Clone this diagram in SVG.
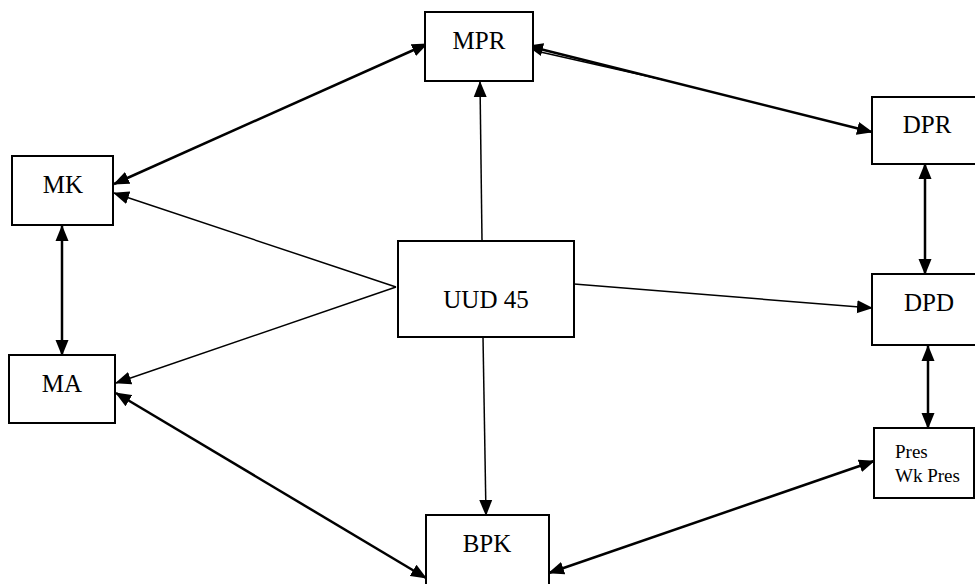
<svg xmlns="http://www.w3.org/2000/svg" width="975" height="584" viewBox="0 0 975 584">
<defs>
<marker id="ah" markerUnits="userSpaceOnUse" markerWidth="16" markerHeight="14" refX="15" refY="6.5" orient="auto-start-reverse" viewBox="0 0 16 13">
<path d="M0,0 L16,6.5 L0,13 Z" fill="#000"/>
</marker>
<style>
.box{fill:#fff;stroke:#000;stroke-width:2}
.t{font-size:25px;fill:#000;text-anchor:middle}
.ts{font-size:19px;fill:#000}
.thick{stroke:#000;stroke-width:2.5;fill:none}
.thin{stroke:#000;stroke-width:1.5;fill:none}
</style>
</defs>
<rect width="975" height="584" fill="#fff"/>
<g id="connectors">
<line class="thick" x1="114" y1="184" x2="427" y2="44" marker-start="url(#ah)" marker-end="url(#ah)"/>
<line class="thick" x1="528" y1="46" x2="872" y2="132" marker-start="url(#ah)" marker-end="url(#ah)"/>
<line class="thin" x1="536" y1="51" x2="662" y2="79.5"/>
<line class="thin" x1="482" y1="241" x2="480" y2="82" marker-end="url(#ah)"/>
<line class="thin" x1="396" y1="287" x2="114" y2="193" marker-end="url(#ah)"/>
<line class="thin" x1="396" y1="287" x2="116" y2="383" marker-end="url(#ah)"/>
<line class="thin" x1="574" y1="284" x2="872" y2="308" marker-end="url(#ah)"/>
<line class="thin" x1="483" y1="337" x2="486" y2="515" marker-end="url(#ah)"/>
<line class="thick" x1="62" y1="226" x2="62" y2="355" marker-start="url(#ah)" marker-end="url(#ah)"/>
<line class="thick" x1="925" y1="164" x2="925" y2="274" marker-start="url(#ah)" marker-end="url(#ah)"/>
<line class="thick" x1="928" y1="346" x2="928" y2="428" marker-start="url(#ah)" marker-end="url(#ah)"/>
<line class="thick" x1="116" y1="393" x2="426" y2="578" marker-start="url(#ah)" marker-end="url(#ah)"/>
<line class="thick" x1="549" y1="573" x2="874" y2="461" marker-start="url(#ah)" marker-end="url(#ah)"/>
</g>
<g font-family="'Liberation Serif', 'DejaVu Serif', serif">
<g id="MPR"><rect class="box" x="425" y="12" width="108" height="69"/><text class="t" x="479" y="49">MPR</text></g>
<g id="DPR"><rect class="box" x="872" y="97" width="106" height="67"/><text class="t" x="927" y="133">DPR</text></g>
<g id="MK"><rect class="box" x="12" y="156" width="101" height="69"/><text class="t" x="63" y="193">MK</text></g>
<g id="MA"><rect class="box" x="9" y="355" width="106" height="68"/><text class="t" x="62" y="392">MA</text></g>
<g id="UUD45"><rect class="box" x="398" y="241" width="176" height="96"/><text class="t" x="486" y="308">UUD 45</text></g>
<g id="DPD"><rect class="box" x="872" y="274" width="106" height="71"/><text class="t" x="929" y="311">DPD</text></g>
<g id="Pres"><rect class="box" x="874" y="428" width="100" height="70"/><text class="ts" x="895" y="458">Pres</text><text class="ts" x="895" y="482">Wk Pres</text></g>
<g id="BPK"><rect class="box" x="426" y="515" width="123" height="80"/><text class="t" x="487" y="552">BPK</text></g>
</g>
</svg>
